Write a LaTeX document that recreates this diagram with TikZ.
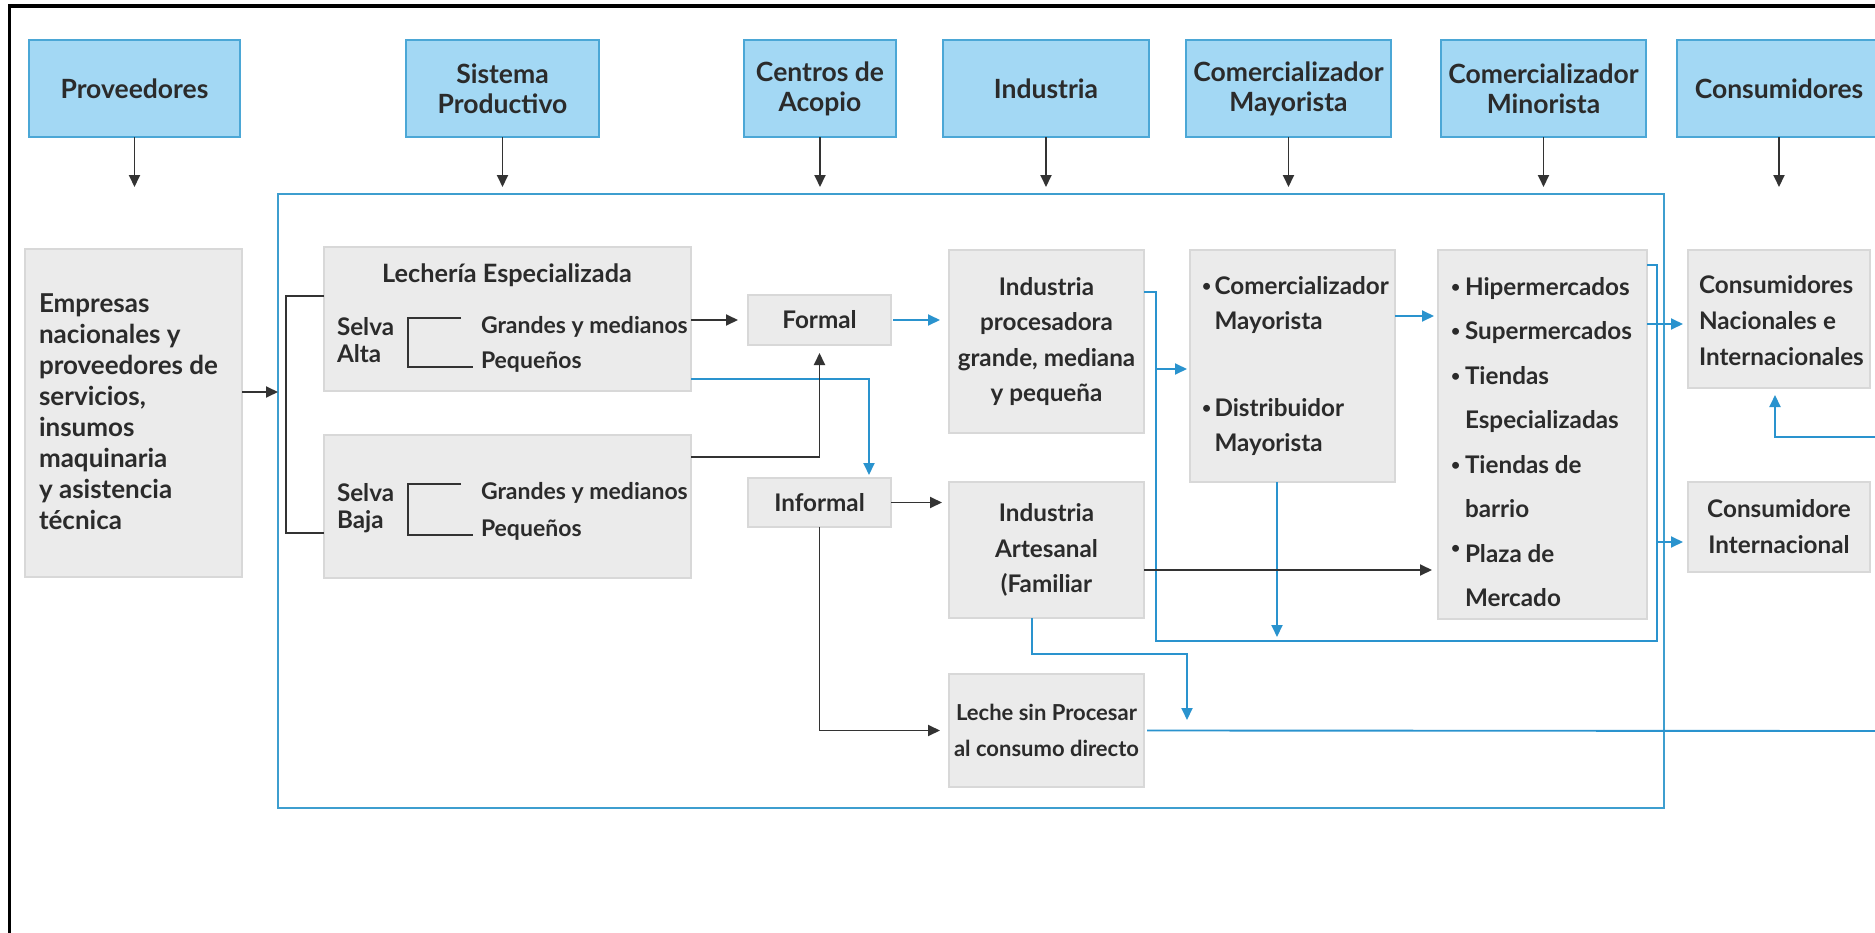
\documentclass[tikz,border=0pt]{standalone}
\usepackage{fontspec}
\setmainfont{Lato}
\usetikzlibrary{arrows.meta,calc}
\definecolor{hdrfill}{HTML}{A3D8F4}
\definecolor{hdrline}{HTML}{4BA7D6}
\definecolor{gfill}{HTML}{EBEBEB}
\definecolor{gline}{HTML}{D8D8D8}
\definecolor{cBlue}{HTML}{2A93CE}
\definecolor{cFrame}{HTML}{3E9ECF}
\definecolor{cTxt}{HTML}{2B2B2B}
\definecolor{cDark}{HTML}{333333}
\newcommand\bx[7]{\node[#2, minimum width={(#5-#3)*0.4pt}, minimum height={(#6-#4)*0.4pt}] (#1) at ({(#3+#5)/2},{(#4+#6)/2}) {#7};}
\newcommand\bul{\raisebox{1.1pt}{\scalebox{0.65}{•}}}
\tikzset{
 hdrbox/.style={draw=hdrline, fill=hdrfill, line width=0.6pt, inner sep=0pt, outer sep=0pt, align=center, font=\fontsize{10.6}{12}\selectfont\bfseries, text=cTxt},
 gbox/.style={draw=gline, fill=gfill, line width=0.6pt, inner sep=0pt, outer sep=0pt, align=center, font=\fontsize{9.7}{14.2}\selectfont\bfseries, text=cTxt},
 framebox/.style={draw=cFrame, line width=1pt, inner sep=0pt, outer sep=0pt},
 txt/.style={inner sep=0pt, outer sep=0pt, text=cTxt, font=\fontsize{9.7}{14}\selectfont\bfseries, align=left},
 darr/.style={draw=cDark, line width=0.75pt, -{Triangle[width=4.4pt,length=4.8pt]}},
 barr/.style={draw=cBlue, line width=0.75pt, -{Triangle[width=4.4pt,length=4.8pt]}},
 dline/.style={draw=cDark, line width=0.75pt},
 bwire/.style={draw=cBlue, line width=0.75pt},
}
\begin{document}
\begin{tikzpicture}[x=0.4pt,y=-0.4pt]
\useasboundingbox (0,0) rectangle (1875,933);
\clip (0,0) rectangle (1875,933);
\fill[white] (0,0) rectangle (1875,933);
\draw[black, line width=1.2pt] (9,940) -- (9,6) -- (1880,6);

% headers
\bx{hP}{hdrbox}{29}{40}{240}{137}{Proveedores}
\bx{hS}{hdrbox}{406}{40}{599}{137}{Sistema\\Productivo}
\bx{hC}{hdrbox}{744}{40}{896}{137}{Centros de\\Acopio}
\bx{hI}{hdrbox}{943}{40}{1149}{137}{Industria}
\bx{hM}{hdrbox}{1186}{40}{1391}{137}{Comercializador\\Mayorista}
\bx{hN}{hdrbox}{1441}{40}{1646}{137}{Comercializador\\Minorista}
\bx{hK}{hdrbox}{1677}{40}{1881}{137}{Consumidores}
\foreach \h in {hP,hS,hC,hI,hM,hN,hK}{
  \coordinate (\h end) at (\h.south |- 0,187);
  \draw[darr] (\h.south) -- (\h end);
}

% frame
\bx{frame}{framebox}{278}{194}{1664}{808}{}

% left box
\bx{emp}{gbox}{25}{249}{242}{577}{}
\node[txt, anchor=west, font=\fontsize{10.4}{12.4}\selectfont\bfseries] (empT) at (39,412) {Empresas\\nacionales y\\proveedores de\\servicios,\\insumos\\maquinaria\\y asistencia\\técnica};

% lecheria
\bx{lech}{gbox}{324}{247}{691}{391}{}
\node[txt, font=\fontsize{10.1}{14}\selectfont\bfseries] (lechT) at (507,275) {Lechería Especializada};
\node[txt, anchor=west, font=\fontsize{9.7}{10.8}\selectfont\bfseries] (saT) at (337,340) {Selva\\Alta};
\node[txt, anchor=west, font=\fontsize{9.2}{14}\selectfont\bfseries] (gA) at (481,327) {Grandes y medianos};
\node[txt, anchor=west, font=\fontsize{9.2}{14}\selectfont\bfseries] (pA) at (481,362) {Pequeños};
\draw[dline] (461,318) -- (408,318) -- (408,367) -- (473,367);

\bx{baja}{gbox}{324}{435}{691}{578}{}
\node[txt, anchor=west, font=\fontsize{9.7}{10.8}\selectfont\bfseries] (sbT) at (337,508) {Selva\\Baja};
\node[txt, anchor=west, font=\fontsize{9.2}{14}\selectfont\bfseries] (gB) at (481,493) {Grandes y medianos};
\node[txt, anchor=west, font=\fontsize{9.2}{14}\selectfont\bfseries] (pB) at (481,530) {Pequeños};
\draw[dline] (461,484) -- (408,484) -- (408,535) -- (473,535);

% centres
\bx{formal}{gbox}{748}{295}{891}{345}{Formal}
\bx{informal}{gbox}{748}{478}{891}{527}{Informal}

% industry
\bx{indp}{gbox}{949}{250}{1144}{433}{Industria\\procesadora\\grande, mediana\\y pequeña}
\bx{art}{gbox}{949}{482}{1144}{618}{Industria\\Artesanal\\(Familiar}
\bx{leche}{gbox, font=\fontsize{8.8}{14.4}\selectfont\bfseries}{949}{674}{1144}{787}{Leche sin Procesar\\al consumo directo}

% mayorista
\bx{may}{gbox}{1190}{250}{1395}{482}{}
\node[txt, anchor=west] (mayT) at (1202,366) {\makebox[5pt][l]{\bul}Comercializador\\\hspace*{5pt}Mayorista\\[20.8pt]\makebox[5pt][l]{\bul}Distribuidor\\\hspace*{5pt}Mayorista};

% minorista
\bx{mino}{gbox}{1438}{250}{1647}{619}{}
\node[txt, anchor=west, font=\fontsize{9.7}{17.8}\selectfont\bfseries] (minoT) at (1451,442) {\makebox[5.6pt][l]{\bul}Hipermercados\\\makebox[5.6pt][l]{\bul}Supermercados\\\makebox[5.6pt][l]{\bul}Tiendas\\\hspace*{5.6pt}Especializadas\\\makebox[5.6pt][l]{\bul}Tiendas de\\\hspace*{5.6pt}barrio\\\makebox[5.6pt][l]{\raisebox{2.4pt}{\bul}}Plaza de\\\hspace*{5.6pt}Mercado};

% consumers
\bx{cnac}{gbox}{1688}{250}{1870}{388}{}
\node[txt, anchor=west, font=\fontsize{9.7}{14.4}\selectfont\bfseries] (cnacT) at (1699,321) {Consumidores\\Nacionales e\\Internacionales};
\bx{cint}{gbox, font=\fontsize{9.7}{14.4}\selectfont\bfseries}{1688}{482}{1870}{572}{Consumidore\\Internacional}

% connectors
\draw[darr] (emp.east |- 0,392) -- (frame.west |- 0,392);
\draw[dline] (lech.west |- 0,296) -- (286,296) -- (286,533) -- (baja.west |- 0,533);
\draw[darr, shorten >=4pt] (lech.east |- formal) -- (formal.west);
\draw[barr, shorten <=0.8pt, shorten >=3.6pt] (formal.east) -- (formal.east -| indp.west);
\draw[barr, shorten >=1.2pt] (lech.east |- 0,379) -| (informal.north -| 869,0);
\draw[darr, shorten >=3.2pt] (baja.east |- 0,457) -| (formal.south);
\draw[darr, shorten >=2.8pt] (informal.east) -- (informal.east -| art.west);
\draw[darr, shorten >=3.6pt] (informal.south) |- (leche.west);

\draw[bwire] (indp.east |- 0,292) -- (1156,292) -- (1156,641) -- (1657,641) -- (1657,265) -- (mino.east |- 0,265);
\draw[barr, shorten >=1.2pt] (1156,369) -- (may.west |- 0,369);
\draw[barr, shorten >=1.6pt] (may.east |- 0,316) -- (mino.west |- 0,316);
\coordinate (mayEnd) at (1277,637);
\draw[barr] (may.south -| mayEnd) -- (mayEnd);
\draw[darr, shorten >=2.4pt] (art.east |- 0,570) -- (mino.west |- 0,570);
\coordinate (artEnd) at (1187,720);
\draw[barr] (art.south -| 1032,0) |- (1187,654) -- (artEnd);
\draw[barr, shorten >=2pt] (mino.east |- 0,324) -- (cnac.west |- 0,324);
\draw[barr, shorten >=2pt] (1657,542) -- (cint.west |- 0,542);
\coordinate (rightA) at (1880,731);
\draw[bwire] ([xshift=1.2pt]leche.east) -- (rightA);
\coordinate (rightB) at (1880,437);
\draw[barr, shorten >=2.8pt] (rightB) -| (cnac.south -| 1775,0);
\end{tikzpicture}
\end{document}
